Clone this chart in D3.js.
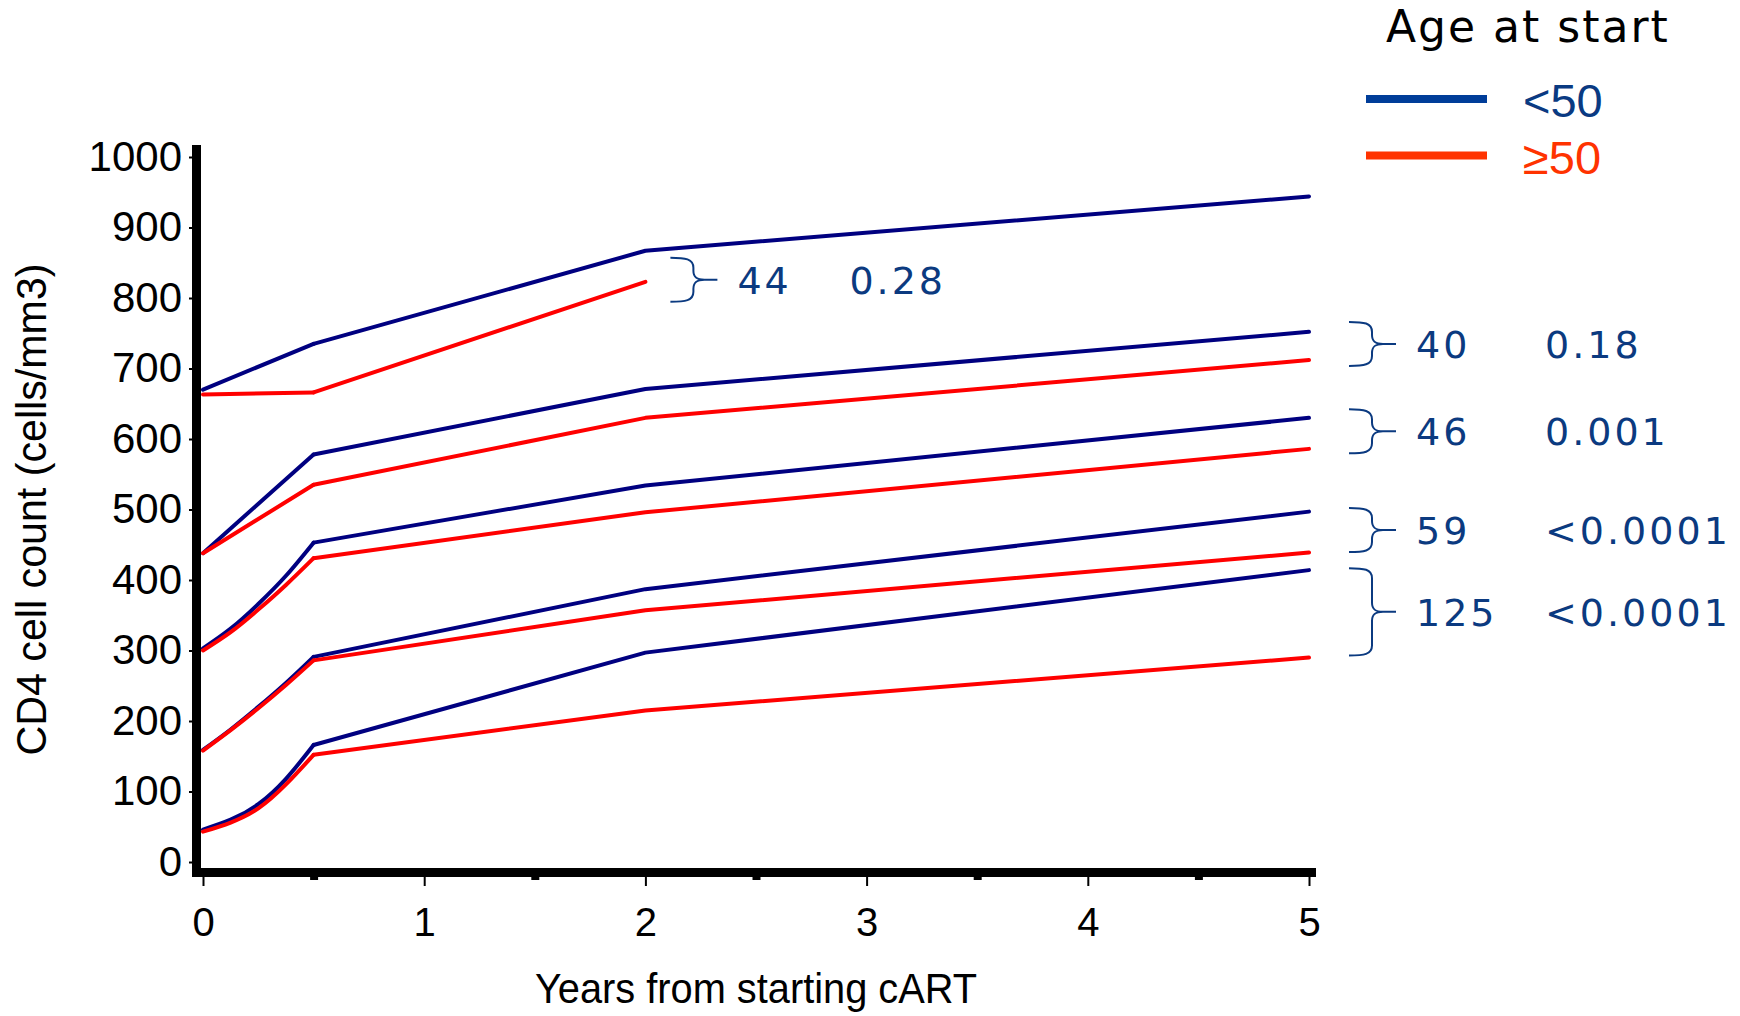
<!DOCTYPE html>
<html lang="en">
<head>
<meta charset="UTF-8">
<title>CD4 cell count by age at start of cART</title>
<script src="https://d3js.org/d3.v7.min.js"></script>
<style>
  body { margin: 0; background: #fff; }
  svg { display: block; }
</style>
</head>
<body>
<div id="chart"></div>
<script>
// time points (years from starting cART)
const lowYears = [0, 0.125, 0.25, 0.375, 0.5, 2, 5];   // baseline strata 1-3 (curved first half-year)
const highYears = [0, 0.5, 2, 5];                       // baseline strata 4-5

// CD4 counts, one array per baseline stratum, lowest first
const ageUnder50 = [
  [46, 60, 82, 118, 166, 297, 414],
  [159, 188, 220, 254, 291, 387, 497],
  [303, 331, 366, 406, 453, 534, 630],
  [438, 578, 671, 752],
  [670, 735, 867, 944]
];
const age50plus = [
  [43, 56, 76, 110, 152, 215, 290],
  [158, 187, 218, 251, 286, 357, 439],
  [300, 326, 358, 393, 431, 496, 586],
  [438, 535, 630, 712],
  [663, 666, 823]
];
const stratumYears = [lowYears, lowYears, lowYears, highYears, highYears];

// legend
const ageGroups = ["<50", "≥50"];
const legendTitle = "Age at start";

// annotations: difference and p-value per stratum
const annStratum = [4, 3, 2, 1, 0];
const annYear = [2, 5, 5, 5, 5];
const annDiff = ["44", "40", "46", "59", "125"];
const annP = ["0.28", "0.18", "0.001", "<0.0001", "<0.0001"];

const yTicks = d3.range(0, 1001, 100);
const xTicks = [0, 1, 2, 3, 4, 5];
const xMinor = [0.5, 1.5, 2.5, 3.5, 4.5];

// layout
const width = 1740, height = 1016;
const lineColors = ["#000080", "#ff0000"];
const legendColors = ["#003d99", "#ff3300"];
const legendText = ["#0a3a82", "#ff3300"];
const annColor = "#0b3a80";

const svg = d3.select("#chart").append("svg")
  .attr("width", width)
  .attr("height", height);

const x = d3.scaleLinear().domain([0, 5]).range([203, 1309]);
const y = d3.scaleLinear().domain([0, 1000]).range([862, 157]);

// y axis ticks + labels
const yAxis = svg.append("g")
  .attr("transform", "translate(192,0)")
  .call(d3.axisLeft(y).tickValues(yTicks).tickSize(3).tickPadding(7).tickFormat(d3.format("d")));
yAxis.select(".domain").remove();
yAxis.selectAll("line").attr("stroke", "#000").attr("stroke-width", 2);
yAxis.selectAll("text")
  .attr("font-family", "Liberation Sans, Arial, sans-serif")
  .attr("font-size", 42)
  .attr("fill", "#000");

// x axis major ticks + labels
const xAxis = svg.append("g")
  .attr("transform", "translate(0,877)")
  .call(d3.axisBottom(x).tickValues(xTicks).tickSize(9).tickPadding(22).tickFormat(d3.format("d")));
xAxis.select(".domain").remove();
xAxis.selectAll("line").attr("stroke", "#000").attr("stroke-width", 2);
xAxis.selectAll("text")
  .attr("font-family", "Liberation Sans, Arial, sans-serif")
  .attr("font-size", 40)
  .attr("fill", "#000");

// x axis minor ticks
const xMinorAxis = svg.append("g")
  .attr("transform", "translate(0,877)")
  .call(d3.axisBottom(x).tickValues(xMinor).tickSize(3).tickFormat(""));
xMinorAxis.select(".domain").remove();
xMinorAxis.selectAll("line").attr("stroke", "#000").attr("stroke-width", 8);

// thick axis lines
svg.append("line")
  .attr("x1", 196.5).attr("x2", 196.5)
  .attr("y1", y(1000) - 12).attr("y2", 877)
  .attr("stroke", "#000").attr("stroke-width", 9);
svg.append("line")
  .attr("x1", 192).attr("x2", x(5) + 7)
  .attr("y1", 872.5).attr("y2", 872.5)
  .attr("stroke", "#000").attr("stroke-width", 9);

// axis titles
svg.append("text")
  .attr("x", x(2.5))
  .attr("y", 1003)
  .attr("text-anchor", "middle")
  .attr("font-family", "Liberation Sans, Arial, sans-serif")
  .attr("font-size", 42)
  .attr("textLength", 442)
  .attr("lengthAdjust", "spacingAndGlyphs")
  .text("Years from starting cART");

svg.append("text")
  .attr("transform", `translate(46,${(y(0) + y(1000)) / 2}) rotate(-90)`)
  .attr("text-anchor", "middle")
  .attr("font-family", "Liberation Sans, Arial, sans-serif")
  .attr("font-size", 43)
  .attr("textLength", 492)
  .attr("lengthAdjust", "spacingAndGlyphs")
  .text("CD4 cell count (cells/mm3)");

// lines: smooth over the first half-year, straight afterwards
const early = d3.line().x(d => x(d[0])).y(d => y(d[1])).curve(d3.curveNatural);
const late = d3.line().x(d => x(d[0])).y(d => y(d[1]));
[ageUnder50, age50plus].forEach((group, g) => {
  const pts = group.map((vals, i) => vals.map((v, j) => [stratumYears[i][j], v]));
  const gg = svg.append("g")
    .attr("fill", "none")
    .attr("stroke", lineColors[g])
    .attr("stroke-width", 4)
    .attr("stroke-linejoin", "round")
    .attr("stroke-linecap", "round");
  gg.selectAll("path.early")
    .data(pts.map(p => p.filter(d => d[0] <= 0.5)))
    .join("path")
    .attr("class", "early")
    .attr("d", early);
  gg.selectAll("path.late")
    .data(pts.map(p => p.filter(d => d[0] >= 0.5)))
    .join("path")
    .attr("class", "late")
    .attr("d", late);
});

// braces + annotation text
function valueAt(vals, yrs, t) {
  return vals[yrs.indexOf(t)];
}
function bracePath(x0, top, bot) {
  const xv = x0 + 23, xt = x0 + 47, ym = (top + bot) / 2;
  return `M${x0},${top} C${xv - 8},${top} ${xv},${top + 1} ${xv},${top + 10}` +
    ` L${xv},${ym - 9} C${xv},${ym - 2} ${xv + 4},${ym} ${xv + 11},${ym} L${xt},${ym}` +
    ` M${xv + 11},${ym} C${xv + 4},${ym} ${xv},${ym + 2} ${xv},${ym + 9}` +
    ` L${xv},${bot - 10} C${xv},${bot - 1} ${xv - 8},${bot} ${x0},${bot}`;
}

annStratum.forEach((s, k) => {
  const t = annYear[k];
  const yrs = stratumYears[s];
  const yb = y(valueAt(ageUnder50[s], yrs, t));
  const yr = y(valueAt(age50plus[s], yrs, t));
  const inside = t < 5;
  const mid = inside ? yr - 2 : (yb + yr) / 2 - 2;
  const half = Math.max(22, (yr - yb) / 2);
  const x0 = x(t) + (inside ? 25 : 40);

  svg.append("path")
    .attr("d", bracePath(x0, mid - half, mid + half))
    .attr("fill", "none")
    .attr("stroke", annColor)
    .attr("stroke-width", 2);

  svg.append("text")
    .attr("x", x0 + 67)
    .attr("y", mid + 14)
    .attr("font-family", "DejaVu Sans, Verdana, sans-serif")
    .attr("font-size", 38)
    .attr("letter-spacing", 3)
    .attr("fill", annColor)
    .text(annDiff[k]);

  svg.append("text")
    .attr("x", x0 + (inside ? 179 : 196))
    .attr("y", mid + 14)
    .attr("font-family", "DejaVu Sans, Verdana, sans-serif")
    .attr("font-size", 38)
    .attr("letter-spacing", 3)
    .attr("fill", annColor)
    .text(annP[k]);
});

// legend
svg.append("text")
  .attr("x", 1386)
  .attr("y", 42)
  .attr("font-family", "DejaVu Sans, Verdana, sans-serif")
  .attr("font-size", 44)
  .attr("letter-spacing", 2)
  .attr("fill", "#000")
  .text(legendTitle);

const legend = svg.append("g")
  .selectAll("g")
  .data(ageGroups)
  .join("g")
  .attr("transform", (d, i) => `translate(0,${99 + i * 56.5})`);
legend.append("line")
  .attr("x1", 1366).attr("x2", 1487)
  .attr("stroke", (d, i) => legendColors[i])
  .attr("stroke-width", 8);
legend.append("text")
  .attr("x", 1523)
  .attr("y", 18)
  .attr("font-family", "Liberation Sans, Arial, sans-serif")
  .attr("font-size", 47)
  .attr("fill", (d, i) => legendText[i])
  .text(d => d);
</script>
</body>
</html>
